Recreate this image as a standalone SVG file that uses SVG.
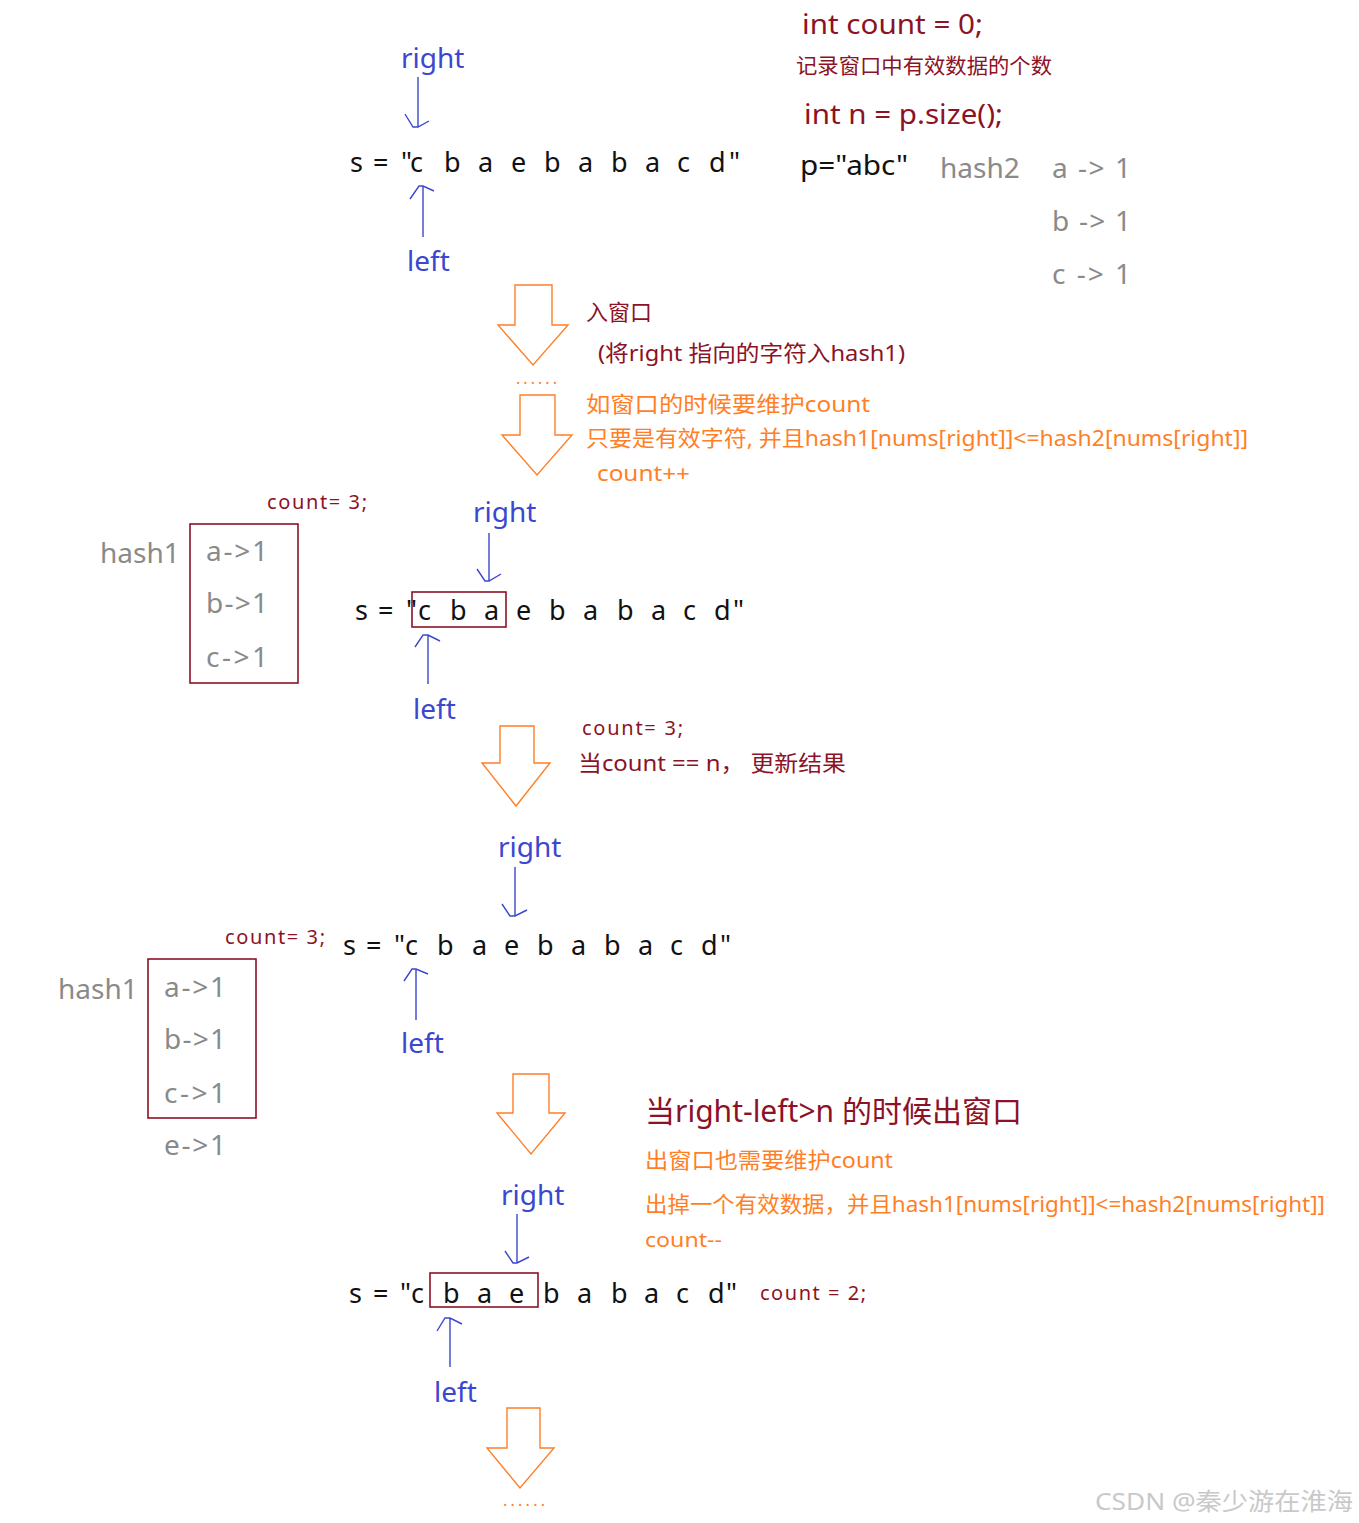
<svg xmlns="http://www.w3.org/2000/svg" width="1359" height="1523" viewBox="0 0 1359 1523">
<style>
text{font-family:"Noto Sans","Noto Sans CJK SC",sans-serif}
.bl{fill:#3b47cf;font-size:28px}
.blk{fill:#111;font-size:27px}
.red{fill:#8c1226}
.org{fill:#ff7f27}
.gry{fill:#8a8a8a;font-size:28px}
.ptr{fill:none;stroke:#3b47cf;stroke-width:1.4}
.hol{fill:#fff;stroke:#ff7f27;stroke-width:1.4;stroke-linejoin:miter}
.box{fill:none;stroke:#8c1226;stroke-width:1.6}
</style>
<rect width="1359" height="1523" fill="#fff"/>

<g id="step1">
  <text class="bl" x="401" y="68">right</text>
  <text class="blk" x="350 373 401 410 444 478 511 544 578 611 645 677 709 729" y="172">s="cbaebabacd"</text>
  <text class="bl" x="407" y="271">left</text>
</g>

<g id="vars">
  <text class="red" x="802" y="34" font-size="28" textLength="181" lengthAdjust="spacingAndGlyphs">int count = 0;</text>
  <text class="red" x="796" y="73" font-size="21" textLength="256" lengthAdjust="spacingAndGlyphs">记录窗口中有效数据的个数</text>
  <text class="red" x="804" y="124" font-size="28" textLength="199" lengthAdjust="spacingAndGlyphs">int n = p.size();</text>
  <text class="blk" x="800" y="175" font-size="28" textLength="108" lengthAdjust="spacingAndGlyphs">p="abc"</text>
  <text class="gry" x="940" y="178">hash2</text>
  <text class="gry" x="1052" y="178" textLength="79" lengthAdjust="spacing">a -&gt; 1</text>
  <text class="gry" x="1052" y="231" textLength="79" lengthAdjust="spacing">b -&gt; 1</text>
  <text class="gry" x="1052" y="284" textLength="79" lengthAdjust="spacing">c -&gt; 1</text>
</g>

<g id="note-enter">
  <text class="red" x="586" y="320" font-size="22">入窗口</text>
  <text class="red" x="598" y="361" font-size="22" textLength="307" lengthAdjust="spacingAndGlyphs">(将right 指向的字符入hash1)</text>
  <text class="org" x="516" y="384" font-size="16" textLength="41" lengthAdjust="spacing">......</text>
  <text class="org" x="586" y="412" font-size="22" textLength="284" lengthAdjust="spacingAndGlyphs">如窗口的时候要维护count</text>
  <text class="org" x="586" y="446" font-size="22" textLength="662" lengthAdjust="spacingAndGlyphs">只要是有效字符, 并且hash1[nums[right]]&lt;=hash2[nums[right]]</text>
  <text class="org" x="597" y="481" font-size="22" textLength="93" lengthAdjust="spacingAndGlyphs">count++</text>
</g>

<g id="step2">
  <text class="red" x="267" y="509" font-size="20" textLength="100" lengthAdjust="spacing">count= 3;</text>
  <text class="gry" x="100" y="563">hash1</text>
  <rect class="box" x="190" y="524" width="108" height="159"/>
  <text class="gry" x="206" y="561" textLength="62" lengthAdjust="spacing">a-&gt;1</text>
  <text class="gry" x="206" y="613" textLength="62" lengthAdjust="spacing">b-&gt;1</text>
  <text class="gry" x="206" y="667" textLength="62" lengthAdjust="spacing">c-&gt;1</text>
  <text class="bl" x="473" y="522">right</text>
  <text class="blk" x="355 378 406 418 450 484 516 549 583 617 651 683 714 733" y="620">s="cbaebabacd"</text>
  <rect class="box" x="412" y="592" width="94" height="35"/>
  <text class="bl" x="413" y="719">left</text>
</g>

<g id="note-update">
  <text class="red" x="582" y="735" font-size="20" textLength="101" lengthAdjust="spacing">count= 3;</text>
  <text class="red" x="578" y="771" font-size="22" textLength="268" lengthAdjust="spacingAndGlyphs">当count == n， 更新结果</text>
</g>

<g id="step3">
  <text class="bl" x="498" y="857">right</text>
  <text class="red" x="225" y="944" font-size="20" textLength="100" lengthAdjust="spacing">count= 3;</text>
  <text class="blk" x="343 366 394 405 437 472 504 537 571 604 638 670 701 720" y="955">s="cbaebabacd"</text>
  <text class="bl" x="401" y="1053">left</text>
  <text class="gry" x="58" y="999">hash1</text>
  <rect class="box" x="148" y="959" width="108" height="159"/>
  <text class="gry" x="164" y="997" textLength="62" lengthAdjust="spacing">a-&gt;1</text>
  <text class="gry" x="164" y="1049" textLength="62" lengthAdjust="spacing">b-&gt;1</text>
  <text class="gry" x="164" y="1103" textLength="62" lengthAdjust="spacing">c-&gt;1</text>
  <text class="gry" x="164" y="1155" textLength="62" lengthAdjust="spacing">e-&gt;1</text>
</g>

<g id="note-exit">
  <text class="red" x="645" y="1122" font-size="30" textLength="377" lengthAdjust="spacingAndGlyphs">当right-left&gt;n 的时候出窗口</text>
  <text class="org" x="645" y="1168" font-size="22" textLength="248" lengthAdjust="spacingAndGlyphs">出窗口也需要维护count</text>
  <text class="org" x="645" y="1212" font-size="22" textLength="680" lengthAdjust="spacingAndGlyphs">出掉一个有效数据，并且hash1[nums[right]]&lt;=hash2[nums[right]]</text>
  <text class="org" x="645" y="1247" font-size="20" textLength="77" lengthAdjust="spacingAndGlyphs">count--</text>
</g>

<g id="step4">
  <text class="bl" x="501" y="1205">right</text>
  <text class="blk" x="349 373 400 411 443 477 509 543 577 611 644 676 708 726" y="1303">s="cbaebabacd"</text>
  <rect class="box" x="430" y="1273" width="108" height="34"/>
  <text class="red" x="760" y="1300" font-size="20" textLength="106" lengthAdjust="spacing">count = 2;</text>
  <text class="bl" x="434" y="1402">left</text>
  <text class="org" x="503" y="1506" font-size="16" textLength="42" lengthAdjust="spacing">......</text>
</g>

<g id="watermark">
  <text x="1095" y="1510" font-size="24" fill="#c9c9c9" textLength="258" lengthAdjust="spacingAndGlyphs">CSDN @秦少游在淮海</text>
</g>

<g id="connectors">
  <path class="ptr" d="M418 77V127M405 114L413 127H418L429 121"/>
  <path class="ptr" d="M423 237V186M410 199L419 186H423L434 191"/>
  <path class="ptr" d="M489 533V581M477 569L485 581H489L501 574"/>
  <path class="ptr" d="M428 684V635M415 647L423 635H428L440 641"/>
  <path class="ptr" d="M515 867V916M502 904L510 916H515L527 910"/>
  <path class="ptr" d="M416 1020V969M404 981L412 969H416L428 974"/>
  <path class="ptr" d="M517 1214V1263M505 1251L513 1263H517L529 1257"/>
  <path class="ptr" d="M450 1367V1318M437 1331L445 1318H450L462 1324"/>
  <polygon class="hol" points="515,285 552,285 552,325 568,325 533,365 498,325 515,325"/>
  <polygon class="hol" points="520,395 555,395 555,435 572,435 537,475 502,435 520,435"/>
  <polygon class="hol" points="500,726 534,726 534,763 550,763 516,806 482,763 500,763"/>
  <polygon class="hol" points="513,1074 549,1074 549,1113 565,1113 531,1154 497,1113 513,1113"/>
  <polygon class="hol" points="507,1408 540,1408 540,1448 554,1448 520,1488 487,1448 507,1448"/>
</g>
</svg>
